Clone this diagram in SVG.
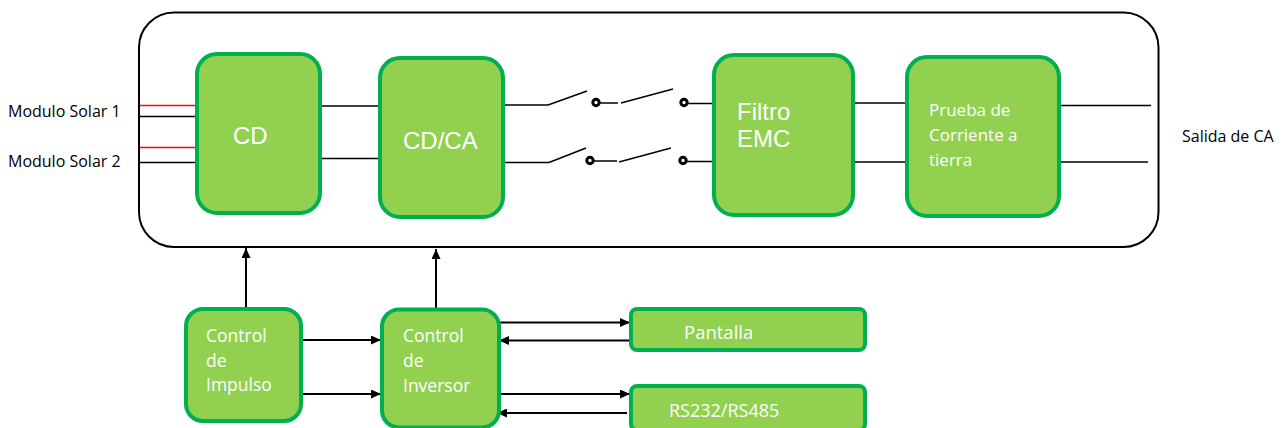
<svg xmlns="http://www.w3.org/2000/svg" width="1282" height="428" viewBox="0 0 1282 428">
<defs>
<style>
.blk{fill:#92D050;stroke:#00B050;stroke-width:4}
.ln{stroke:#000;stroke-width:1.5;fill:none}
.red{stroke:#FF0000;stroke-width:1.5;fill:none}
.arr{stroke:#000;stroke-width:2;fill:none}
.wa{font-family:"Liberation Sans",Arial,sans-serif;font-size:24px;fill:#fff}
.wc{font-family:"Open Sans","Liberation Sans",sans-serif;fill:#fff}
.lbl{font-family:"Open Sans","Liberation Sans",sans-serif;font-size:16px;fill:#000}
.dot{fill:#fff;stroke:#000;stroke-width:3}
</style>
<marker id="ah" viewBox="0 0 10 10" refX="10" refY="5" markerWidth="5" markerHeight="4.5" markerUnits="strokeWidth" orient="auto" preserveAspectRatio="none">
<path d="M0,0 L10,5 L0,10 z" fill="#000"/>
</marker>
</defs>
<rect width="1282" height="428" fill="#fff"/>

<g id="outer">
<rect x="139" y="12.5" width="1019.5" height="234.5" rx="35" ry="35" fill="none" stroke="#000" stroke-width="2"/>
</g>

<g id="connectors">
<line class="red" x1="140" y1="105.5" x2="197" y2="105.5"/>
<line class="ln" x1="140" y1="116.5" x2="195" y2="116.5"/>
<line class="red" x1="140" y1="147.5" x2="197" y2="147.5"/>
<line class="ln" x1="140" y1="162.5" x2="195" y2="162.5"/>
<line class="ln" x1="320" y1="106" x2="378" y2="106"/>
<line class="ln" x1="320" y1="158.5" x2="378" y2="158.5"/>
<line class="ln" x1="503" y1="105" x2="548" y2="105"/>
<line class="ln" x1="548" y1="105" x2="587" y2="91"/>
<line class="ln" x1="596" y1="103" x2="618" y2="103"/>
<line class="ln" x1="621" y1="103" x2="673" y2="89"/>
<line class="ln" x1="684" y1="103.5" x2="712" y2="103.5"/>
<line class="ln" x1="503" y1="162.5" x2="549" y2="162.5"/>
<line class="ln" x1="549" y1="162.5" x2="586" y2="148"/>
<line class="ln" x1="590" y1="161" x2="617" y2="161"/>
<line class="ln" x1="619" y1="162" x2="671" y2="148"/>
<line class="ln" x1="683" y1="161.5" x2="712" y2="161.5"/>
<circle class="dot" cx="596" cy="102.5" r="3.2"/>
<circle class="dot" cx="684" cy="102.5" r="3.2"/>
<circle class="dot" cx="590" cy="160.5" r="3.2"/>
<circle class="dot" cx="683" cy="160.5" r="3.2"/>
<line class="ln" x1="853" y1="103" x2="906" y2="103"/>
<line class="ln" x1="853" y1="162" x2="906" y2="162"/>
<line class="ln" x1="1059" y1="105.5" x2="1151" y2="105.5"/>
<line class="ln" x1="1058" y1="162" x2="1148" y2="162"/>
<line class="arr" x1="246" y1="307" x2="246" y2="248" marker-end="url(#ah)"/>
<line class="arr" x1="436" y1="308" x2="436" y2="249" marker-end="url(#ah)"/>
<line class="arr" x1="302" y1="340" x2="381" y2="340" marker-end="url(#ah)"/>
<line class="arr" x1="301" y1="394" x2="381" y2="394" marker-end="url(#ah)"/>
<line class="arr" x1="500" y1="322.5" x2="630" y2="322.5" marker-end="url(#ah)"/>
<line class="arr" x1="630" y1="340.5" x2="499" y2="340.5" marker-end="url(#ah)"/>
<line class="arr" x1="500" y1="394" x2="630" y2="394" marker-end="url(#ah)"/>
<line class="arr" x1="627" y1="413" x2="497" y2="413" marker-end="url(#ah)"/>
</g>

<g id="labels">
<text class="lbl" x="8" y="117">Modulo Solar 1</text>
<text class="lbl" x="8" y="167">Modulo Solar 2</text>
<text class="lbl" x="1182" y="142">Salida de CA</text>
</g>

<g id="cd">
<rect class="blk" x="197" y="54" width="123" height="159" rx="20" ry="20"/>
<text class="wa" x="233" y="144">CD</text>
</g>
<g id="cdca">
<rect class="blk" x="380" y="58" width="123" height="159" rx="20" ry="20"/>
<text class="wa" x="403" y="149">CD/CA</text>
</g>
<g id="emc">
<rect class="blk" x="714" y="55" width="139" height="160" rx="20" ry="20"/>
<text class="wa" x="737" y="120">Filtro</text>
<text class="wa" x="737" y="147">EMC</text>
</g>
<g id="prueba">
<rect class="blk" x="907" y="57" width="152" height="159" rx="20" ry="20"/>
<text class="wc" font-size="17" x="929" y="116">Prueba de</text>
<text class="wc" font-size="17" x="929" y="141">Corriente a</text>
<text class="wc" font-size="17" x="929" y="166">tierra</text>
</g>
<g id="impulso">
<rect class="blk" x="186" y="309" width="115" height="112" rx="17" ry="17"/>
<text class="wc" font-size="17.5" x="206" y="342">Control</text>
<text class="wc" font-size="17.5" x="206" y="367">de</text>
<text class="wc" font-size="17.5" x="206" y="391">Impulso</text>
</g>
<g id="inversor">
<rect class="blk" x="382" y="309.5" width="117" height="118" rx="17" ry="17"/>
<text class="wc" font-size="17.5" x="403" y="342">Control</text>
<text class="wc" font-size="17.5" x="403" y="367">de</text>
<text class="wc" font-size="17.5" x="403" y="392">Inversor</text>
</g>
<g id="pantalla">
<rect class="blk" x="631" y="309" width="234" height="41" rx="6" ry="6"/>
<text class="wc" font-size="18.5" x="684" y="339">Pantalla</text>
</g>
<g id="rs">
<rect class="blk" x="631" y="386" width="234" height="44" rx="6" ry="6"/>
<text class="wc" font-size="18" x="669" y="417">RS232/RS485</text>
</g>
</svg>
